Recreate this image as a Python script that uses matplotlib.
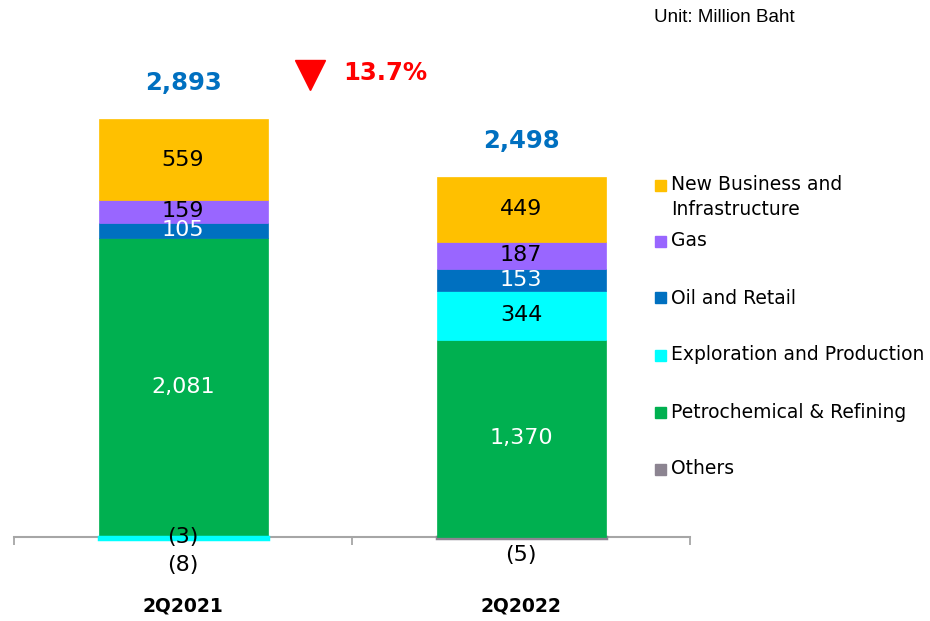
import matplotlib.pyplot as plt
from matplotlib.patches import Rectangle

categories = ['2Q2021', '2Q2022']
series = ['Others', 'Petrochemical & Refining', 'Exploration and Production',
          'Oil and Retail', 'Gas', 'New Business and\nInfrastructure']
others = [-3, -5]
petro = [2081, 1370]
explore = [-8, 344]
oil = [105, 153]
gas = [159, 187]
newbiz = [559, 449]

values = [others, petro, explore, oil, gas, newbiz]
colors = ['#8C8491', '#00B050', '#00FFFF', '#0070C0', '#9966FF', '#FFC000']
text_colors = ['black', 'white', 'black', 'white', 'black', 'black']

# vertical nudges (points) for the small negative labels
neg_offsets = {(0, 0): 0, (0, 2): -19.5, (1, 0): -12.5}

fig = plt.figure(figsize=(9.3, 6.21), dpi=100)
ax = fig.add_axes([14 / 930, 0, 676 / 930, 1])
ax.set_xlim(-0.5, 1.5)
ax.set_ylim(-584, 3734)

x = list(range(len(categories)))
pos_bottom = [0] * len(x)
neg_bottom = [0] * len(x)
for s, (vals, col, tcol) in enumerate(zip(values, colors, text_colors)):
    bottoms = [pos_bottom[i] if v >= 0 else neg_bottom[i] for i, v in enumerate(vals)]
    # tiny negative slices get a fat edge so they stay visible below the axis
    lws = [2.5 if v < 0 else 0.5 for v in vals]
    ax.bar(x, vals, 0.5, bottom=bottoms, color=col, edgecolor=col, linewidth=lws, zorder=3)
    for i, v in enumerate(vals):
        yc = bottoms[i] + v / 2
        if v >= 0:
            pos_bottom[i] += v
            ax.text(i, yc, f'{v:,}', ha='center', va='center', color=tcol,
                    fontsize=16, zorder=5)
        else:
            neg_bottom[i] += v
            ax.annotate(f'({-v})', xy=(i, yc), xytext=(0, neg_offsets.get((i, s), -15)),
                        textcoords='offset points', ha='center', va='center',
                        color='black', fontsize=16, zorder=5)

totals = [sum(v[i] for v in values) for i in x]
for i, t in enumerate(totals):
    ax.annotate(f'{t:,}', xy=(i, pos_bottom[i]), xytext=(0, 26), textcoords='offset points',
                ha='center', va='center', color='#0070C0', fontsize=17.5, fontweight='bold')

pct = (totals[1] - totals[0]) / totals[0] * 100
ax.plot([0.376], [3215], marker='v', markersize=22, color='#FF0000', linestyle='none')
ax.text(0.473, 3227, f'{abs(pct):.1f}%', ha='left', va='center', color='#FF0000',
        fontsize=17.5, fontweight='bold')

# axis styling
for sp in ['top', 'left', 'right']:
    ax.spines[sp].set_visible(False)
ax.spines['bottom'].set_position(('data', 0))
ax.spines['bottom'].set_color('#A6A6A6')
ax.spines['bottom'].set_linewidth(1.5)
ax.spines['bottom'].set_zorder(2)
ax.set_yticks([])
ax.set_xticks([-0.5, 0.5, 1.5])
ax.set_xticklabels(['', '', ''])
ax.tick_params(axis='x', which='major', direction='out', length=6, width=1.3, color='#A6A6A6')
ax.set_xticks(x, minor=True)
ax.set_xticklabels(categories, minor=True, fontsize=13.5, fontweight='bold')
ax.tick_params(axis='x', which='minor', length=0, pad=43)

# legend, top entry first
legend_y = [185, 241, 298, 355, 412, 469]
for k, (name, col) in enumerate(zip(series[::-1], colors[::-1])):
    ypx = legend_y[k]
    fig.add_artist(Rectangle((655 / 930, 1 - (ypx + 5.5) / 621), 11 / 930, 11 / 621,
                             transform=fig.transFigure, color=col))
    for j, line in enumerate(name.split('\n')):
        fig.text(671 / 930, 1 - (ypx + 25 * j) / 621, line, ha='left', va='center',
                 fontsize=13.5, color='black')

fig.text(654 / 930, 1 - 18 / 621, 'Unit: Million Baht', ha='left', va='center',
         fontsize=13.5, family='Liberation Sans')

plt.savefig('out.png', dpi=100)
